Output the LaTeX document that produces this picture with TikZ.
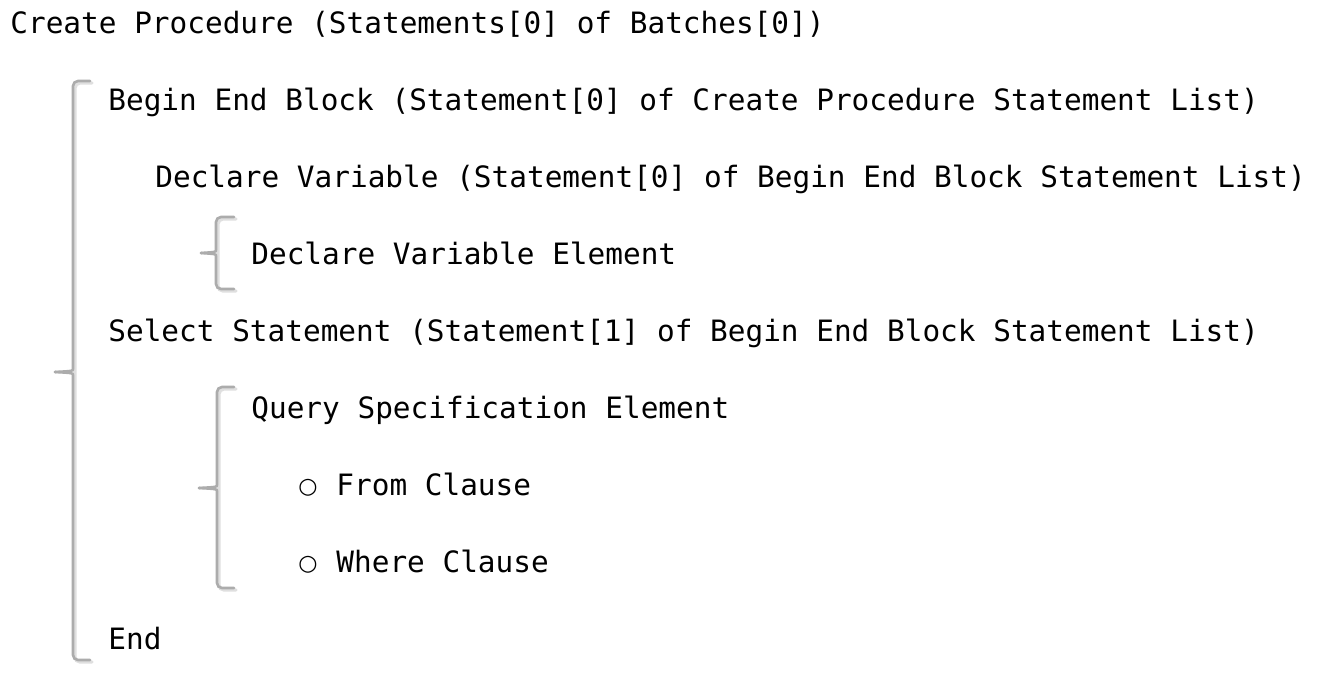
\documentclass[tikz,border=0pt]{standalone}
\usepackage{fontspec}
\setmonofont{DejaVu Sans Mono}
\newfontfamily\bulletfont{DejaVu Sans}
\usepackage{tikz}
\usetikzlibrary{calc}
\def\drawbrace{\draw[color=gray!65, line width=1.3pt, line cap=round, rounded corners=2.5pt]}
\def\drawshade{\draw[color=gray!25, line width=1.6pt, line cap=round, rounded corners=2.5pt]}
\def\codenode{\node[anchor=base west,inner sep=0pt,font=\ttfamily\fontsize{14.7}{17}\selectfont]}
\def\dotnode{\node[anchor=base west,inner sep=0pt,font=\bulletfont\fontsize{11}{13}\selectfont]}

\begin{document}
\begin{tikzpicture}[x=0.5pt,y=-0.5pt]
\useasboundingbox[fill=white] (0,0) rectangle (1334,676);

% ---------- the statement lines, one baseline every 77px
\codenode (proc) at (10,33) {Create Procedure (Statements[0] of Batches[0])};
\codenode (block) at (108,110) {Begin End Block (Statement[0] of Create Procedure Statement List)};
\codenode (declare) at (155,187) {Declare Variable (Statement[0] of Begin End Block Statement List)};
\codenode (element) at (251,264) {Declare Variable Element};
\codenode (select) at (108,341) {Select Statement (Statement[1] of Begin End Block Statement List)};
\codenode (query) at (251,418) {Query Specification Element};
\dotnode (fromdot) at (298,493) {○};
\codenode (from) at (336,495) {From Clause};
\dotnode (wheredot) at (298,570) {○};
\codenode (where) at (336,572) {Where Clause};
\codenode (end) at (108,649) {End};

% ---------- big brace round the procedure body
\coordinate (bigtop) at (73,81);
\coordinate (bigtip) at (55,372);
\coordinate (bigbot) at (73,660);
\drawshade ($ (bigtop) + (19,2) $) -- ($ (bigtop) + (2,2) $) -- ($ (bigbot) + (2,2) $) -- ($ (bigbot) + (19,2) $);
\drawbrace ($ (bigtop) + (17,0) $) -- (bigtop) -- ($ (bigtip) + (18,-8) $)
  .. controls ($ (bigtip) + (18,-1) $) .. (bigtip);
\drawbrace (bigtip) .. controls ($ (bigtip) + (18,1) $) .. ($ (bigtip) + (18,8) $)
  -- (bigbot) -- ($ (bigbot) + (17,0) $);

% ---------- brace of the declare variable
\coordinate (dtop) at (216,217);
\coordinate (dtip) at (201,253);
\coordinate (dbot) at (216,289);
\drawshade ($ (dtop) + (20,2) $) -- ($ (dtop) + (2,2) $) -- ($ (dbot) + (2,2) $) -- ($ (dbot) + (20,2) $);
\drawbrace ($ (dtop) + (18,0) $) -- (dtop) -- ($ (dtip) + (15,-8) $)
  .. controls ($ (dtip) + (15,-1) $) .. (dtip);
\drawbrace (dtip) .. controls ($ (dtip) + (15,1) $) .. ($ (dtip) + (15,8) $)
  -- (dbot) -- ($ (dbot) + (18,0) $);

% ---------- brace of the query specification
\coordinate (qtop) at (217,387);
\coordinate (qtip) at (199,488);
\coordinate (qbot) at (217,588);
\drawshade ($ (qtop) + (19,2) $) -- ($ (qtop) + (2,2) $) -- ($ (qbot) + (2,2) $) -- ($ (qbot) + (19,2) $);
\drawbrace ($ (qtop) + (17,0) $) -- (qtop) -- ($ (qtip) + (18,-8) $)
  .. controls ($ (qtip) + (18,-1) $) .. (qtip);
\drawbrace (qtip) .. controls ($ (qtip) + (18,1) $) .. ($ (qtip) + (18,8) $)
  -- (qbot) -- ($ (qbot) + (17,0) $);
\end{tikzpicture}
\end{document}
